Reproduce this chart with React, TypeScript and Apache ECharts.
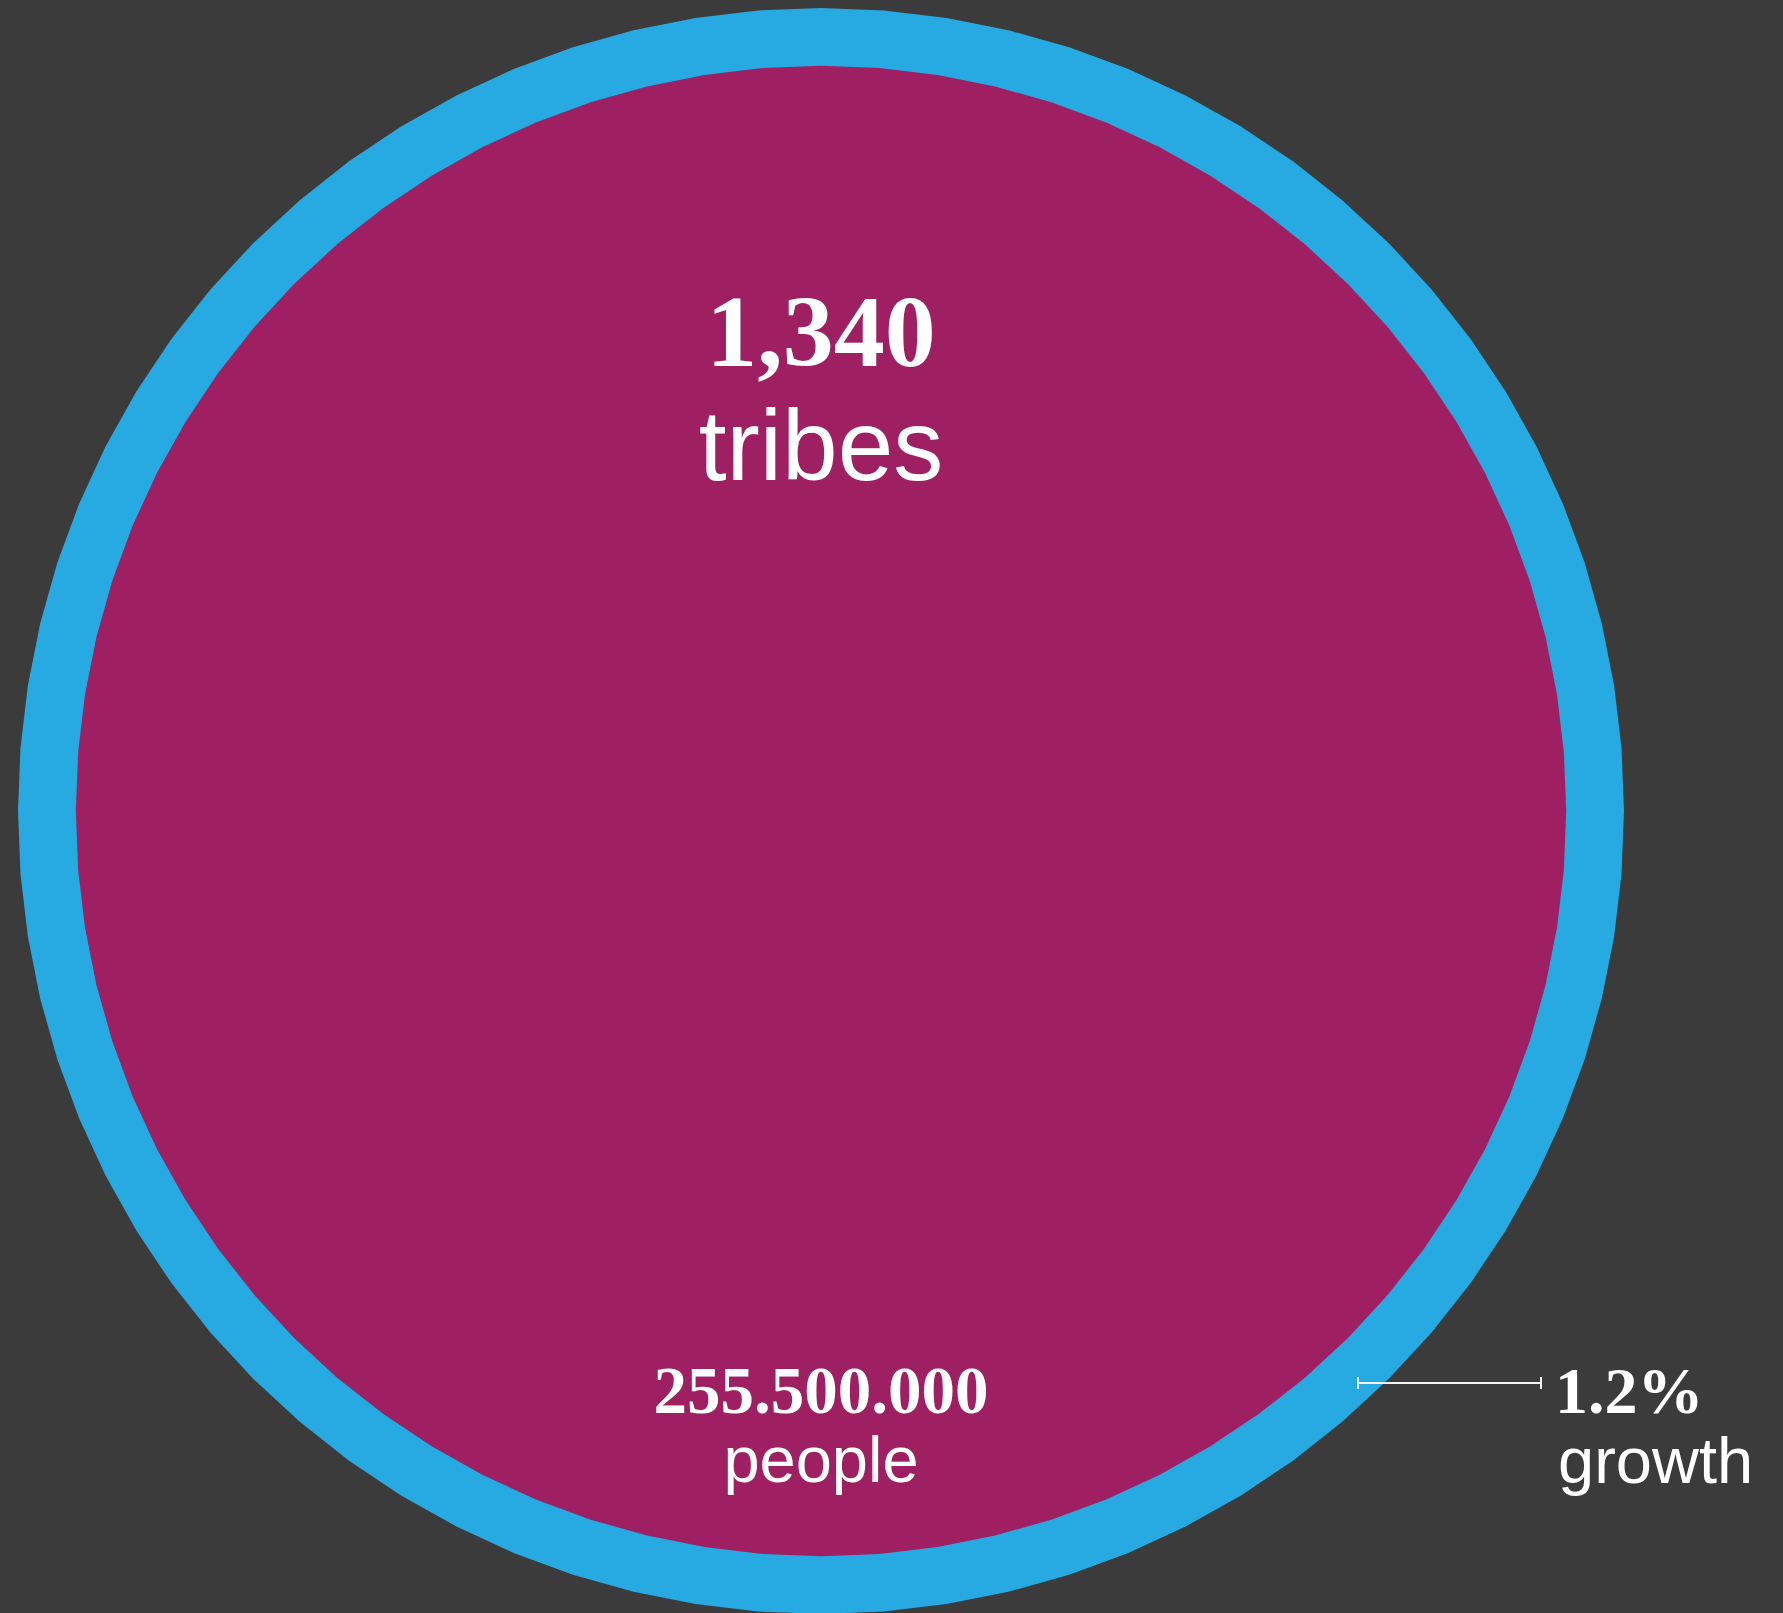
import React, { useEffect, useRef } from "react";
import * as echarts from "echarts";

// ---- data ----
const TRIBES = 1340;
const PEOPLE = 255500000;
const GROWTH_PCT = 1.2;
const LABELS = { tribes: "tribes", people: "people", growth: "growth" };

// relative ring sizes (outer = population incl. growth ring, inner = population)
const OUTER_SIZE = 100;
const INNER_SIZE = 92.8;
const SIDES = 80;

const BG = "#3a3b3a";
const BLUE = "#27a9e1";
const PURPLE = "#9f1f63";

const fmtComma = (n: number) => String(n).replace(/\B(?=(\d{3})+(?!\d))/g, ",");
const fmtDot = (n: number) => String(n).replace(/\B(?=(\d{3})+(?!\d))/g, ".");

export default function App() {
  const ref = useRef<HTMLDivElement>(null);
  useEffect(() => {
    if (!ref.current) return;
    const chart = echarts.init(ref.current, undefined, { renderer: "svg" });
    const indicator = Array.from({ length: SIDES }, () => ({ name: "", max: OUTER_SIZE, min: 0 }));
    const cx = 821;
    const cy = 811;
    const serif = "'Liberation Serif', 'DejaVu Serif', serif";
    const sans = "'Liberation Sans', Arial, sans-serif";
    chart.setOption({
      animation: false,
      backgroundColor: BG,
      radar: {
        center: [cx, cy],
        radius: 803,
        startAngle: 90,
        shape: "polygon",
        splitNumber: 1,
        indicator,
        axisName: { show: false },
        axisLine: { show: false },
        splitLine: { show: false },
        splitArea: { show: false },
        axisTick: { show: false },
        axisLabel: { show: false },
      },
      series: [
        {
          type: "radar",
          z: 1,
          symbol: "none",
          silent: true,
          data: [
            {
              value: Array(SIDES).fill(OUTER_SIZE),
              areaStyle: { color: BLUE, opacity: 1 },
              lineStyle: { width: 0, opacity: 0 },
            },
          ],
        },
        {
          type: "radar",
          z: 2,
          symbol: "none",
          silent: true,
          data: [
            {
              value: Array(SIDES).fill(INNER_SIZE),
              areaStyle: { color: PURPLE, opacity: 1 },
              lineStyle: { width: 0, opacity: 0 },
            },
          ],
        },
      ],
      graphic: [
        {
          type: "text",
          x: cx,
          y: 331,
          z: 10,
          style: {
            text: fmtComma(TRIBES),
            fill: "#ffffff",
            font: `bold 102px ${serif}`,
            align: "center",
            verticalAlign: "middle",
          },
        },
        {
          type: "text",
          x: cx,
          y: 445,
          z: 10,
          style: {
            text: LABELS.tribes,
            fill: "#ffffff",
            font: `100px ${sans}`,
            align: "center",
            verticalAlign: "middle",
          },
        },
        {
          type: "text",
          x: cx,
          y: 1390,
          z: 10,
          style: {
            text: fmtDot(PEOPLE),
            fill: "#ffffff",
            font: `bold 67px ${serif}`,
            align: "center",
            verticalAlign: "middle",
          },
        },
        {
          type: "text",
          x: cx,
          y: 1459,
          z: 10,
          style: {
            text: LABELS.people,
            fill: "#ffffff",
            font: `65px ${sans}`,
            align: "center",
            verticalAlign: "middle",
          },
        },
        {
          type: "text",
          x: 1555,
          y: 1390,
          z: 10,
          style: {
            text: `${GROWTH_PCT}%`,
            fill: "#ffffff",
            font: `bold 66px ${serif}`,
            align: "left",
            verticalAlign: "middle",
          },
        },
        {
          type: "text",
          x: 1558,
          y: 1460,
          z: 10,
          style: {
            text: LABELS.growth,
            fill: "#ffffff",
            font: `65px ${sans}`,
            align: "left",
            verticalAlign: "middle",
          },
        },
        {
          type: "line",
          z: 10,
          shape: { x1: 1357, y1: 1383, x2: 1542, y2: 1383 },
          style: { stroke: "#f2f2f2", lineWidth: 2 },
        },
        {
          type: "line",
          z: 10,
          shape: { x1: 1358, y1: 1377, x2: 1358, y2: 1389 },
          style: { stroke: "#f2f2f2", lineWidth: 2 },
        },
        {
          type: "line",
          z: 10,
          shape: { x1: 1541, y1: 1377, x2: 1541, y2: 1389 },
          style: { stroke: "#f2f2f2", lineWidth: 2 },
        },
      ],
    });
    return () => chart.dispose();
  }, []);
  return (
    <div
      ref={ref}
      style={{ position: "fixed", left: 0, top: 0, width: 1783, height: 1613 }}
    />
  );
}
